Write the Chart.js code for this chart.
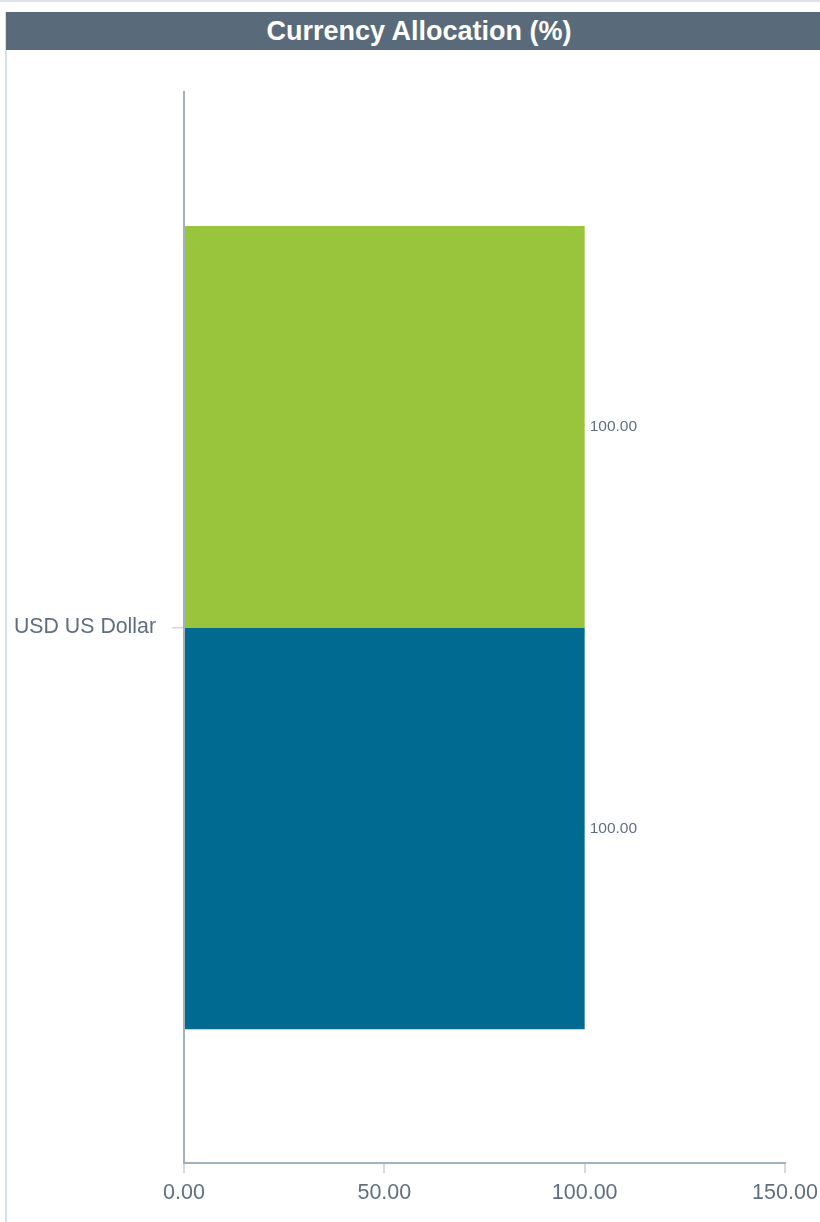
<!DOCTYPE html>
<html>
<head>
<meta charset="utf-8">
<script src="https://cdn.jsdelivr.net/npm/chart.js@4"></script>
<style>
  html, body { margin: 0; padding: 0; background: #fff; width: 820px; height: 1222px; overflow: hidden; position: relative; }
  #topline { position: absolute; left: 0; top: 0; width: 820px; height: 2px; background: #dde3e9; }
  #leftline { position: absolute; left: 5px; top: 12px; width: 2px; height: 1210px; background: #d9dfe6; }
  #header { position: absolute; left: 6px; top: 12px; width: 826px; height: 38px; background: #596a7a;
            color: #fff; font: bold 27px "Liberation Sans", Arial, sans-serif; text-align: center; line-height: 38px; }
  #chart { position: absolute; left: 0; top: 0; }
</style>
</head>
<body>
<div id="topline"></div>
<div id="leftline"></div>
<div id="header">Currency Allocation (%)</div>
<canvas id="chart" width="820" height="1222"></canvas>
<script>
const categories = ["USD US Dollar"];
const seriesA = [100.00];
const seriesB = [100.00];
const xTicks = [0, 50, 100, 150];

const labelPlugin = {
  id: 'valueLabels',
  afterDatasetsDraw(chart) {
    const ctx = chart.ctx;
    ctx.save();
    ctx.font = '15.5px "Liberation Sans", Arial, sans-serif';
    ctx.fillStyle = '#5f6f7f';
    ctx.textAlign = 'left';
    ctx.textBaseline = 'middle';
    chart.data.datasets.forEach((ds, i) => {
      chart.getDatasetMeta(i).data.forEach((bar, j) => {
        ctx.fillText(Number(ds.data[j]).toFixed(2), bar.x + 5, bar.y);
      });
    });
    ctx.restore();
  }
};

new Chart(document.getElementById('chart'), {
  type: 'bar',
  data: {
    labels: categories,
    datasets: [
      { data: seriesA, backgroundColor: '#99c53d', borderWidth: 0, categoryPercentage: 0.75, barPercentage: 1.0 },
      { data: seriesB, backgroundColor: '#006a91', borderWidth: 0, categoryPercentage: 0.75, barPercentage: 1.0 }
    ]
  },
  options: {
    indexAxis: 'y',
    responsive: false,
    animation: false,
    layout: { padding: { top: 92, right: 35, left: 0, bottom: 0 } },
    plugins: { legend: { display: false }, tooltip: { enabled: false } },
    scales: {
      x: {
        min: 0, max: 150,
        afterBuildTicks(scale) { scale.ticks = xTicks.map(v => ({ value: v })); },
        afterFit(scale) { scale.height = 59; scale.paddingRight = 0; scale.paddingLeft = 0; },
        border: { display: true, color: '#a3b0bd', width: 2 },
        grid: { drawOnChartArea: false, drawTicks: true, tickLength: 10, color: '#d5dadf', lineWidth: 2 },
        ticks: {
          padding: 7,
          color: '#5f6f7f',
          font: { size: 21.5, family: '"Liberation Sans", Arial, sans-serif' },
          callback: v => Number(v).toFixed(2)
        }
      },
      y: {
        afterFit(scale) { scale.width = 184; },
        border: { display: true, color: '#a3b0bd', width: 2 },
        grid: { offset: false, drawOnChartArea: false, drawTicks: true, tickLength: 12, color: '#d5dadf', lineWidth: 1.5 },
        ticks: {
          padding: 16,
          color: '#5f6f7f',
          font: { size: 21.3, family: '"Liberation Sans", Arial, sans-serif' }
        }
      }
    }
  },
  plugins: [labelPlugin]
});
</script>
</body>
</html>
